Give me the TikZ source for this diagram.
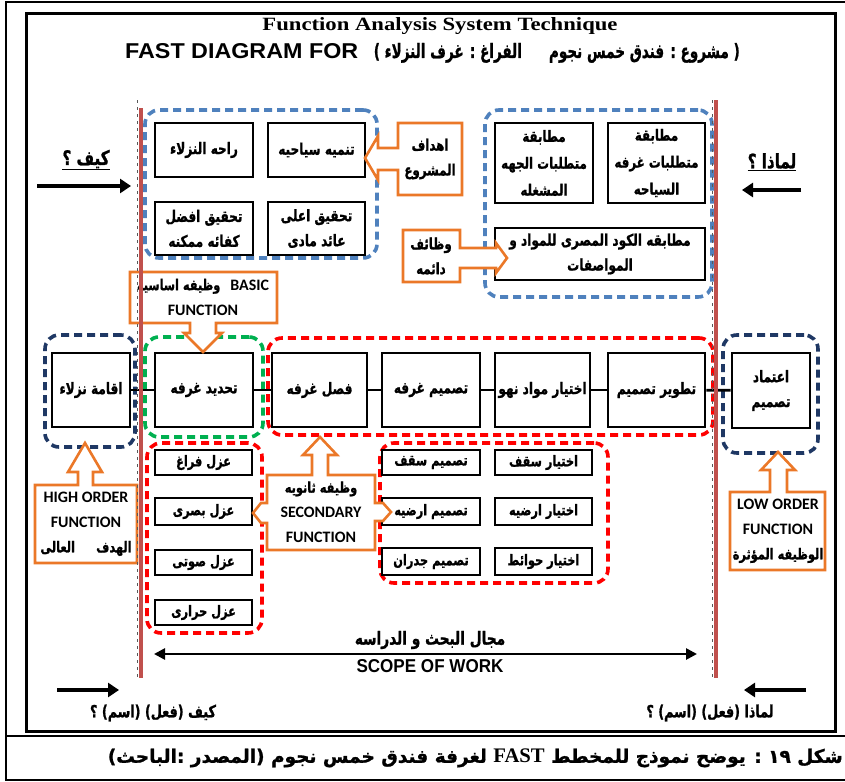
\documentclass[tikz,border=0pt]{standalone}
\usepackage{fontspec}
\setmainfont{Liberation Sans}
\newfontfamily\arfont[Script=Arabic, BoldFeatures={FakeBold=1.2}]{DejaVu Sans}
\newfontfamily\calfont{Carlito}
\newfontfamily\timesfont{Liberation Serif}
\usetikzlibrary{arrows.meta}
\TeXXeTstate=1
\newcommand\ARraw[1]{{\arfont\bfseries\beginR#1\endR}}
\newcommand\AR[1]{\scalebox{0.95}[1.25]{\ARraw{#1}}}
\newcommand\LTR[1]{\beginL#1\endL{}}
\definecolor{fastblue}{RGB}{79,129,189}
\definecolor{fastnavy}{RGB}{31,56,100}
\definecolor{fastgreen}{RGB}{0,176,80}
\definecolor{fastred}{RGB}{255,0,0}
\definecolor{fastorange}{RGB}{235,120,40}
\definecolor{scopered}{RGB}{192,80,77}
\tikzset{
  fbox/.style={draw=black, line width=2.8bp, fill=white, inner sep=0pt, align=center,
    font=\fontsize{12.8}{25}\selectfont},
  grp/.style={draw=#1, fill=none, line width=3.6bp, dash pattern=on 8bp off 5bp,
    rounded corners=14bp},
  callout/.style={draw=fastorange, line width=2.6bp, fill=white, line join=miter},
  lbl/.style={inner sep=0pt, align=center, font=\fontsize{12.5}{25}\selectfont},
  enlbl/.style={inner sep=0pt, align=center, font=\calfont\bfseries\fontsize{16}{25}\selectfont},
  conn/.style={line width=2.8bp},
  flow/.style={line width=3.5bp, -{Triangle[length=11bp,width=14bp]}},
  scope/.style={line width=2.6bp, {Triangle[length=11bp,width=11bp]}-{Triangle[length=11bp,width=11bp]}},
  redline/.style={draw=scopered, line width=3.6bp},
  dotline/.style={draw=black!65, line width=1.3bp, dash pattern=on 3bp off 4bp},
  small/.style={font=\fontsize{12}{14}\selectfont},
}
% box given by its corners: [options]{name}{x1}{y1}{x2}{y2}{text}
\newcommand\bx[7][]{\node[fbox,minimum width={(#5-#3)*1bp},minimum height={(#6-#4)*1bp},#1]
  (#2) at ({(#3+#5)/2},{(#4+#6)/2}) {#7};}
\begin{document}
\begin{tikzpicture}[x=1bp,y=-1bp]
\useasboundingbox (0,0) rectangle (845,782);
% frames
\draw[line width=1.8bp] (6,2) rectangle (852,780);
\draw[line width=1.8bp] (6,736) -- (852,736);
\draw[line width=3bp] (26,14) rectangle (835,731);

% titles
\node[anchor=base, inner sep=0] (title) at (440,31)
  {\resizebox{355bp}{13bp}{\timesfont\bfseries Function Analysis System Technique}};
\node[anchor=base west, inner sep=0] (fastfor) at (125,58)
  {\resizebox{233bp}{15bp}{\bfseries FAST DIAGRAM FOR}};
\node[anchor=base east, inner sep=0, font=\fontsize{17}{20}\selectfont] (project) at (740,58)
  {\resizebox{366bp}{15bp}{\ARraw{( مشروع : فندق خمس نجوم \hspace{22bp} الفراغ : غرف النزلاء )}}};

% groups
\bx[grp=fastblue]{gGoals}{145}{110}{377}{258}{}
\bx[grp=fastblue]{gReq}{485}{110}{712}{297}{}
\bx[grp=fastnavy]{gHigh}{45}{335}{135}{447}{}
\bx[grp=fastgreen]{gBasic}{145}{337}{263}{437}{}
\bx[grp=fastred]{gSec}{268}{338}{713}{435}{}
\bx[grp=fastnavy]{gLow}{723}{335}{818}{453}{}
\bx[grp=fastred]{gIso}{147}{443}{262}{633}{}
\bx[grp=fastred]{gSel}{380}{443}{608}{583}{}

% goal boxes
\bx{tourism}{268}{123}{365}{177}{\AR{تنميه سياحيه}}
\bx{comfort}{155}{123}{253}{177}{\AR{راحه النزلاء}}
\bx{effic}{155}{202}{253}{255}{\AR{تحقيق افضل}\\\AR{كفائه ممكنه}}
\bx{revenue}{268}{202}{365}{255}{\AR{تحقيق اعلى}\\\AR{عائد مادى}}
% requirement boxes
\bx[font=\fontsize{12.5}{27}\selectfont]{operreq}{495}{123}{593}{203}{\AR{مطابقة}\\\AR{متطلبات الجهه}\\\AR{المشغله}}
\bx[font=\fontsize{12.5}{27}\selectfont]{tourreq}{608}{123}{705}{203}{\AR{مطابقة}\\\AR{متطلبات غرفه}\\\AR{السياحه}}
\bx{code}{495}{228}{705}{280}{\AR{مطابقه الكود المصرى للمواد و}\\\AR{المواصفات}}

% main function path
\bx{lodge}{52}{353}{130}{427}{\AR{اقامة نزلاء}}
\bx{define}{155}{353}{253}{427}{\AR{تحديد غرفه}}
\bx{separate}{272}{353}{367}{427}{\AR{فصل غرفه}}
\bx{design}{382}{353}{480}{427}{\AR{تصميم غرفه}}
\bx{materials}{495}{353}{590}{427}{\AR{اختيار مواد نهو}}
\bx{develop}{608}{353}{705}{427}{\AR{تطوير تصميم}}
\bx{approve}{732}{353}{810}{428}{\AR{اعتماد}\\\AR{تصميم}}
\draw[conn] (lodge) -- (define);
\draw[conn] (define) -- (separate);
\draw[conn] (separate) -- (design);
\draw[conn] (design) -- (materials);
\draw[conn] (materials) -- (develop);
\draw[conn] (develop) -- (approve);

% insulation boxes
\bx[small]{isoSpace}{155}{450}{252}{475}{\AR{عزل فراغ}}
\bx[small]{isoVisual}{155}{498}{252}{525}{\AR{عزل بصرى}}
\bx[small]{isoSound}{155}{550}{252}{575}{\AR{عزل صوتى}}
\bx[small]{isoHeat}{155}{600}{252}{625}{\AR{عزل حرارى}}
% design / selection boxes
\bx[small]{dCeil}{382}{450}{480}{475}{\AR{تصميم سقف}}
\bx[small]{dFloor}{382}{498}{480}{525}{\AR{تصميم ارضيه}}
\bx[small]{dWall}{382}{548}{480}{575}{\AR{تصميم جدران}}
\bx[small]{sCeil}{495}{450}{592}{475}{\AR{اختيار سقف}}
\bx[small]{sFloor}{495}{498}{592}{525}{\AR{اختيار ارضيه}}
\bx[small]{sWall}{495}{548}{592}{575}{\AR{اختيار حوائط}}

% orange callouts
\draw[callout] (398,123) -- (462,123) -- (462,195) -- (398,195) -- (398,170) -- (378,170)
  -- (378,180) -- (365,158) -- (378,136) -- (378,148) -- (398,148) -- cycle;
\node[lbl] (goals) at (430,159) {\AR{اهداف}\\\AR{المشروع}};

\draw[callout] (403,230) -- (460,230) -- (460,248) -- (496,248) -- (496,243) -- (507,258)
  -- (496,273) -- (496,268) -- (460,268) -- (460,282) -- (403,282) -- cycle;
\node[lbl] (always) at (431,256) {\AR{وظائف}\\\AR{دائمه}};

\draw[callout] (130,272) -- (277,272) -- (277,323) -- (216,323) -- (216,333) -- (222,333)
  -- (203,352) -- (184,333) -- (190,333) -- (190,323) -- (130,323) -- cycle;
\node[enlbl] (basic) at (203,297) {\AR{\fontsize{12}{25}\selectfont وظيفه اساسيه}\hspace{10bp}BASIC\\FUNCTION};

\draw[callout] (35,485) -- (78,485) -- (78,472) -- (68,472) -- (85,443) -- (102,472)
  -- (93,472) -- (93,485) -- (137,485) -- (137,563) -- (35,563) -- cycle;
\node[enlbl] (high) at (86,524) {HIGH ORDER\\FUNCTION\\\AR{\fontsize{12}{25}\selectfont الهدف \hspace{14bp} العالى}};

\draw[callout] (730,492) -- (770,492) -- (770,470) -- (761,470) -- (778,452) -- (795,470)
  -- (787,470) -- (787,492) -- (825,492) -- (825,570) -- (730,570) -- cycle;
\node[enlbl] (low) at (778,531) {LOW ORDER\\FUNCTION\\\AR{\fontsize{12}{25}\selectfont الوظيفه المؤثرة}};

\draw[callout] (267,475) -- (312,475) -- (312,455) -- (303,455) -- (320,437) -- (337,455)
  -- (328,455) -- (328,475) -- (375,475) -- (375,503) -- (383,503) -- (391,512) -- (383,521)
  -- (375,521) -- (375,550) -- (267,550) -- (267,523) -- (261,523) -- (253,513) -- (261,503)
  -- (267,503) -- cycle;
\node[enlbl] (second) at (321,512) {\AR{\fontsize{12}{25}\selectfont وظيفه ثانويه}\\SECONDARY\\FUNCTION};

% scope limits
\draw[dotline] (137.5,100) -- (137.5,680);
\draw[dotline] (712.5,100) -- (712.5,680);
\draw[redline] (141,108) -- (141,678);
\draw[redline] (716,100) -- (716,678);

% how / why
\node[lbl, font=\fontsize{16}{18}\selectfont] (howq) at (86,160) {\underline{\AR{كيف ؟}}};
\node[lbl, font=\fontsize{16}{18}\selectfont] (whyq) at (772,162) {\underline{\AR{لماذا ؟}}};
\coordinate (howA) at (37,186);
\coordinate (howB) at (131,186);
\draw[flow] (howA) -- (howB);
\coordinate (whyA) at (801,190);
\coordinate (whyB) at (742,190);
\draw[flow] (whyA) -- (whyB);

\coordinate (howC) at (57,690);
\coordinate (howD) at (119,690);
\draw[flow] (howC) -- (howD);
\node[lbl, font=\fontsize{13.5}{16}\selectfont] (howtxt) at (153,713) {\AR{كيف (فعل) (اسم) ؟}};
\coordinate (whyC) at (806,690);
\coordinate (whyD) at (744,690);
\draw[flow] (whyC) -- (whyD);
\node[lbl, font=\fontsize{13.5}{16}\selectfont] (whytxt) at (710,713) {\AR{لماذا (فعل) (اسم) ؟}};

% scope of work
\node[lbl, font=\fontsize{14.5}{16}\selectfont] (scopeAr) at (430,640) {\AR{مجال البحث و الدراسه}};
\coordinate (scL) at (154,654);
\coordinate (scR) at (697,654);
\draw[scope] (scL) -- (scR);
\node[inner sep=0] (scopeEn) at (430,666) {\resizebox{147bp}{13bp}{\bfseries SCOPE OF WORK}};

% caption
\node[anchor=east, inner sep=0, font=\fontsize{17}{20}\selectfont] (caption) at (843,758)
  {\resizebox{735bp}{!}{\ARraw{شكل \LTR{١٩} : يوضح نموذج للمخطط \LTR{{\timesfont\bfseries\fontsize{19}{20}\selectfont FAST}} لغرفة فندق خمس نجوم (المصدر :الباحث)}}};
\end{tikzpicture}
\end{document}
